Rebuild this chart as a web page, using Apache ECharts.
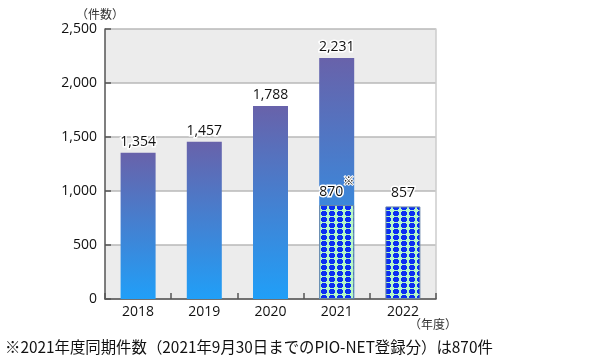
<!DOCTYPE html>
<html>
<head>
<meta charset="utf-8">
<script src="https://cdn.jsdelivr.net/npm/echarts@6/dist/echarts.min.js"></script>
<style>
html,body{margin:0;padding:0;background:#fff;}
#chart{width:599px;height:363px;}
</style>
</head>
<body>
<div id="chart"></div>
<script>
const categories = ['2018', '2019', '2020', '2021', '2022'];
const totalCounts = [1354, 1457, 1788, 2231, null];
const samePeriodCounts = [null, null, null, 870, 857];
const yTicks = [0, 500, 1000, 1500, 2000, 2500];
const unitLabel = '（件数）';
const yearLabel = '（年度）';
const footnote = '※2021年度同期件数（2021年9月30日までのPIO-NET登録分）は870件';

const NUM_FONT = '"Open Sans", "Noto Sans", sans-serif';
const JP_FONT = '"Noto Sans CJK JP", sans-serif';

function makePattern() {
  const c = document.createElement('canvas');
  c.width = 8; c.height = 6;
  const g = c.getContext('2d');
  g.fillStyle = '#b6f7c6';
  g.fillRect(0, 0, 8, 6);
  g.fillStyle = '#0b2ff2';
  g.fillRect(2, 1, 4, 5);
  g.fillRect(1, 2, 6, 3);
  return c;
}
const fmt = v => Number(v).toLocaleString('en-US');

const chart = echarts.init(document.getElementById('chart'), null, {renderer: 'canvas'});
chart.setOption({
  animation: false,
  backgroundColor: '#ffffff',
  grid: {left: 105, right: 163, top: 29, bottom: 64, containLabel: false},
  xAxis: {
    type: 'category',
    data: categories,
    axisLine: {lineStyle: {color: '#555555', width: 1.5}},
    axisTick: {show: true, inside: true, length: 6, lineStyle: {color: '#555555', width: 1.5}},
    axisLabel: {color: '#111111', fontSize: 14, fontFamily: NUM_FONT, margin: 6}
  },
  yAxis: [{
    type: 'value',
    min: 0, max: 2500, interval: 500,
    axisLine: {show: true, lineStyle: {color: '#555555', width: 1.5}},
    axisTick: {show: true, inside: true, length: 6, lineStyle: {color: '#555555', width: 1.5}},
    axisLabel: {color: '#111111', fontSize: 14, fontFamily: NUM_FONT, margin: 8,
      formatter: v => yTicks.includes(v) ? fmt(v) : ''},
    splitLine: {show: true, lineStyle: {color: '#b8b8b8', width: 1.5}},
    splitArea: {show: true, areaStyle: {color: ['#ececec', '#ffffff']}}
  }, {
    type: 'value',
    position: 'right',
    min: 0, max: 2500, interval: 500,
    axisLine: {show: true, lineStyle: {color: '#cccccc', width: 1.5}},
    axisTick: {show: false},
    axisLabel: {show: false},
    splitLine: {show: false}
  }],
  series: [{
    type: 'bar',
    data: totalCounts,
    barWidth: 35,
    barGap: '-100%',
    itemStyle: {
      color: new echarts.graphic.LinearGradient(0, 0, 0, 1, [
        {offset: 0, color: '#6862aa'},
        {offset: 1, color: '#209ff8'}
      ])
    },
    label: {
      show: true, position: 'top', distance: 4,
      color: '#111111', fontSize: 14, fontFamily: NUM_FONT,
      textBorderColor: '#ffffff', textBorderWidth: 3,
      formatter: p => fmt(p.value)
    }
  }, {
    type: 'bar',
    data: samePeriodCounts,
    barWidth: 35,
    barGap: '-100%',
    itemStyle: {
      color: {image: makePattern(), repeat: 'repeat'},
      borderColor: '#6a84a8', borderWidth: 1
    },
    label: {
      show: true, position: 'top', distance: 6,
      color: '#111111', fontSize: 14, fontFamily: NUM_FONT,
      textBorderColor: '#ffffff', textBorderWidth: 3,
      formatter: p => p.dataIndex === 3 ? '{n|' + fmt(p.value) + '}{s|※}' : fmt(p.value),
      rich: {
        n: {fontSize: 14, fontFamily: NUM_FONT, color: '#111111', verticalAlign: 'bottom', lineHeight: 24,
            textBorderColor: '#ffffff', textBorderWidth: 3},
        s: {fontSize: 11, fontFamily: JP_FONT, color: '#111111', verticalAlign: 'top', lineHeight: 24,
            textBorderColor: '#ffffff', textBorderWidth: 2}
      }
    }
  }],
  graphic: [
    {type: 'text', left: 76, top: 8, style: {text: unitLabel, font: '12px ' + JP_FONT, fill: '#333333'}},
    {type: 'text', left: 409, top: 318, style: {text: yearLabel, font: '12px ' + JP_FONT, fill: '#333333'}},
    {type: 'text', left: 5, top: 339, style: {text: footnote, font: '15.4px ' + JP_FONT, fill: '#111111'}}
  ]
});
</script>
</body>
</html>
